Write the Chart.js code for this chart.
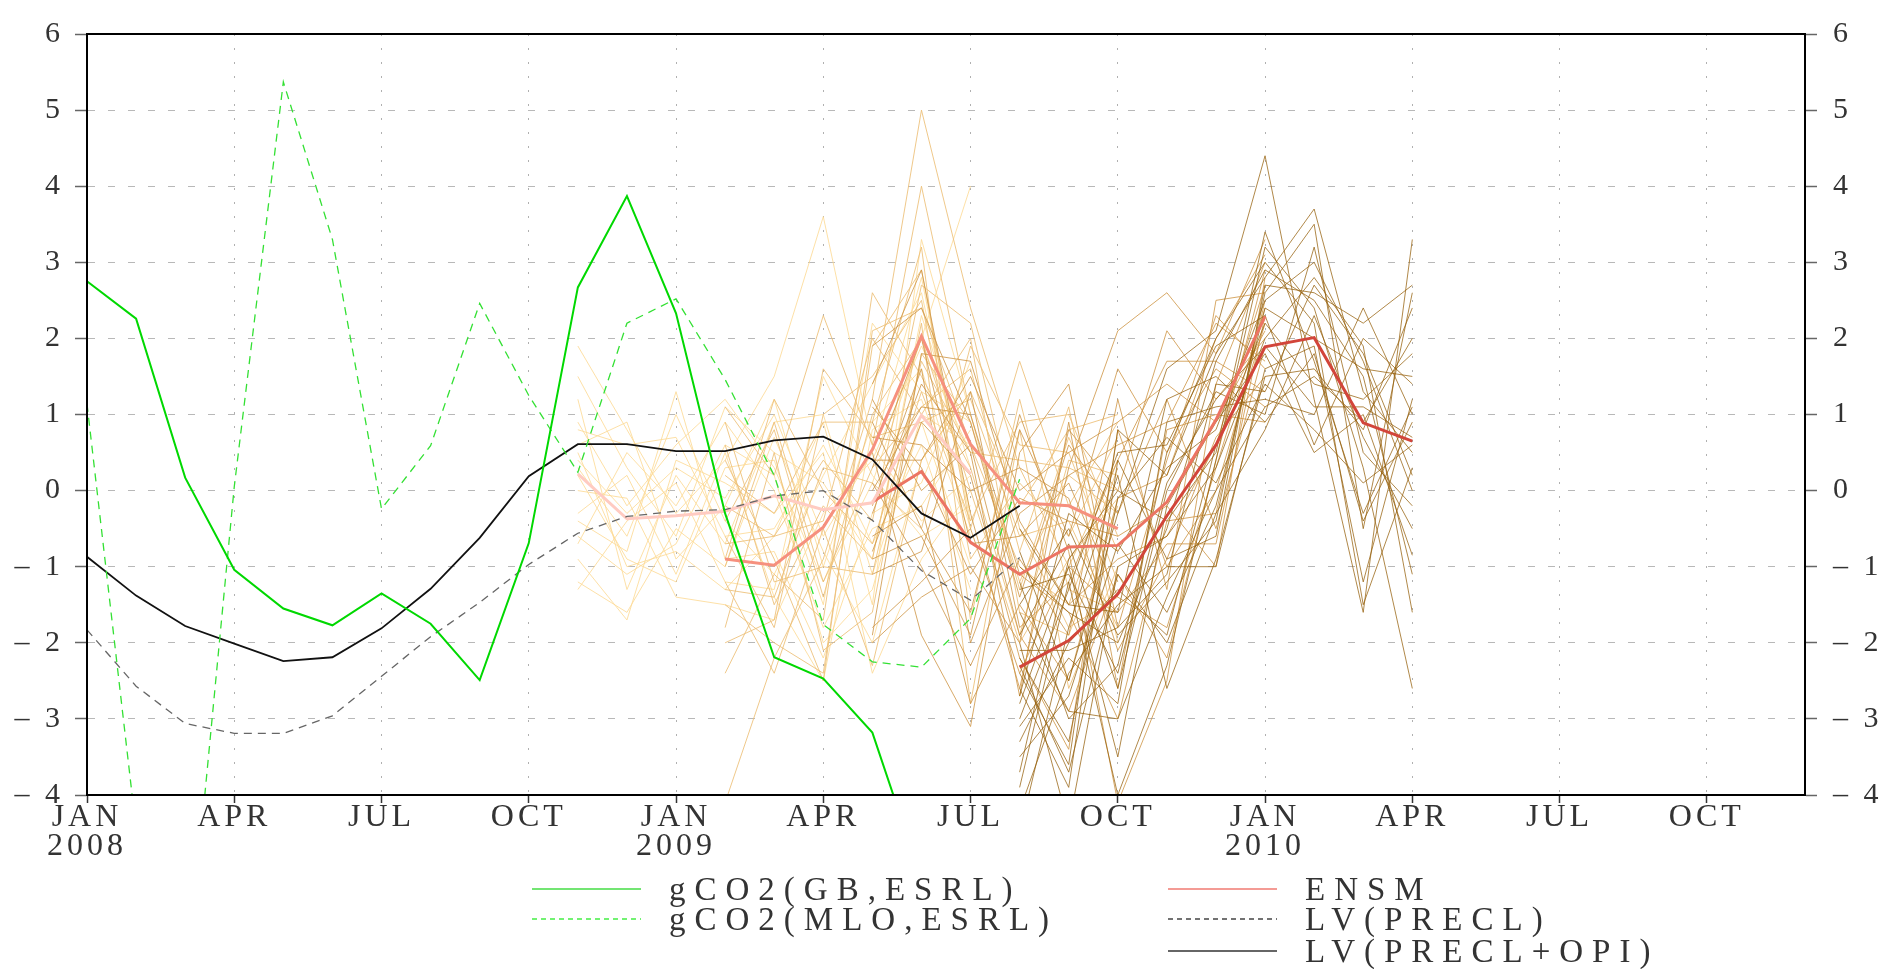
<!DOCTYPE html>
<html>
<head>
<meta charset="utf-8">
<script src="https://cdn.jsdelivr.net/npm/chart.js@4.4.1/dist/chart.umd.min.js"></script>
<style>
  html, body { margin: 0; padding: 0; background: #fff; }
  #wrap { position: relative; width: 1897px; height: 969px; }
  #legend {
    position: absolute; left: 0; top: 0; width: 100%; height: 100%; pointer-events: none;
    font-family: 'Liberation Serif', 'DejaVu Serif', serif; font-size: 33px;
    letter-spacing: 9px; color: #333;
  }
  .item { position: absolute; display: flex; align-items: center; height: 30px; white-space: nowrap; }
  .item svg { margin-right: 28px; flex: none; }
</style>
</head>
<body>
<div id="wrap">
  <canvas id="chart" width="1897" height="969"></canvas>
  <div id="legend"></div>
</div>
<script>
// Month index 0 = JAN 2008, axis runs to DEC 2010
const xTickValues = [0, 3, 6, 9, 12, 15, 18, 21, 24, 27, 30, 33];
const monthNames = ['JAN', 'APR', 'JUL', 'OCT'];
const yearNames = ['2008', '2009', '2010'];

// Observations, starting JAN 2008
const gco2GB = [2.75, 2.26, 0.17, -1.04, -1.55, -1.77, -1.35, -1.75, -2.49, -0.69, 2.67, 3.87,
  2.33, -0.30, -2.19, -2.47, -3.18, -5.1];
const gco2MLO = [1.14, -4.45, -6.7, 0.05, 5.37, 3.3, -0.24, 0.59, 2.46, 1.25, 0.24, 2.2,
  2.52, 1.46, 0.2, -1.76, -2.25, -2.32, -1.68, 0.15];
const lvPrecl = [-1.83, -2.57, -3.06, -3.19, -3.19, -2.96, -2.44, -1.92, -1.47, -0.97, -0.56, -0.34,
  -0.27, -0.25, -0.07, 0.0, -0.39, -1.05, -1.44, -0.88];
const lvPreclOpi = [-0.87, -1.38, -1.78, -2.01, -2.24, -2.19, -1.81, -1.29, -0.62, 0.19, 0.61, 0.61,
  0.52, 0.52, 0.66, 0.71, 0.41, -0.30, -0.62, -0.20];

// Forecast start months: NOV 2008, FEB 2009, MAY 2009, AUG 2009 (9 months each)
const initMonths = [10, 13, 16, 19];

const ensm1 = [0.22, -0.37, -0.33, -0.27, -0.07, -0.25, -0.16, 0.99, 0.22];
const ensm2 = [-0.90, -0.98, -0.48, 0.54, 2.03, 0.61, -0.16, -0.20, -0.50];
const ensm3 = [-0.15, 0.25, -0.68, -1.10, -0.74, -0.72, -0.15, 0.93, 2.29];
const ensm4 = [-2.32, -1.97, -1.36, -0.33, 0.60, 1.89, 2.01, 0.89, 0.65];

const members1 = [
  [1.9, 0.8, -0.3, 0.4, 1.5, 3.6, 0.6, -0.4, 0.2],
  [0.9, -0.2, 0.6, 1.2, 0.3, -1.2, 0.1, 2.0, 4.0],
  [0.5, -1.0, -0.8, -1.3, -0.6, 0.9, -1.5, 3.3, 1.0],
  [-0.3, 0.2, -1.1, 0.5, -1.4, -2.5, 0.8, 1.2, -0.6],
  [-1.2, -1.6, -0.5, -1.0, 0.7, -0.8, -2.0, 0.4, 1.3],
  [0.3, -0.6, 1.0, -0.4, -1.1, 0.2, 1.4, 2.6, -0.3],
  [-0.7, 0.5, -0.2, 0.9, 0.0, -1.8, -0.5, -0.2, 0.8],
  [1.2, -1.3, 0.2, -0.7, 0.9, 1.0, -1.1, 0.9, -1.0],
  [0.0, -0.1, -1.4, -1.5, -1.7, -0.3, 0.4, 1.9, 0.5],
  [-0.9, -1.7, 0.4, 0.1, -0.3, 0.5, -2.4, -0.9, 0.0],
  [0.6, 0.9, -0.9, -0.2, 1.2, -1.0, 0.9, 1.6, -0.5],
  [-0.4, -0.8, 1.3, -0.9, -0.8, -2.2, -0.3, 0.1, 1.7],
  [1.5, 0.3, -0.6, 1.1, 0.5, 0.1, -0.9, 2.3, 0.3],
  [-1.3, -0.4, 0.1, -1.2, -1.3, 1.5, 0.2, -0.6, -0.2],
  [0.2, -0.9, -1.2, 0.3, 0.4, -1.5, 2.2, 1.3, 0.9],
  [0.8, 0.6, 0.7, -0.6, -0.5, 0.6, -0.7, 0.6, -1.3],
  [-0.6, -1.1, -0.7, 0.6, 0.2, -2.0, -1.3, 1.0, 0.6],
  [0.4, -0.3, 0.3, -0.1, 1.0, -0.6, 0.5, 2.8, -0.4],
];
const members2 = [
  [-4.1, -2.2, -0.9, 1.2, 5.0, 2.4, 0.3, -1.0, 0.4],
  [1.1, 0.2, 2.3, 0.6, 4.0, 1.0, -1.3, 0.7, -0.8],
  [-1.5, -2.0, -2.4, 1.9, 2.9, -0.5, 1.7, -0.2, 0.9],
  [-0.2, -0.6, 0.4, -0.4, 2.7, 2.2, -0.5, -1.8, -1.4],
  [-2.4, -1.1, -1.7, 2.6, 1.5, 0.3, -1.9, 0.4, 0.2],
  [0.6, -1.5, -0.2, -0.9, 2.2, -2.8, 0.8, -2.6, -1.0],
  [-1.0, 0.9, -1.2, 0.3, 1.1, 1.6, -0.8, 1.1, -2.0],
  [-0.6, -1.8, 1.0, 1.5, 2.5, -0.9, 0.1, -0.6, 0.7],
  [-1.8, 0.5, -2.1, -1.6, 1.8, 0.9, -1.2, 0.2, -0.3],
  [0.2, -0.3, 0.9, 0.9, 3.2, -1.7, 1.2, -1.3, -1.6],
  [-1.2, -2.4, -0.5, -2.3, 0.4, 1.3, -0.2, 0.8, 1.0],
  [-0.4, 0.8, -1.4, 1.0, 2.0, 0.0, -2.0, -0.9, -0.1],
  [-1.3, -1.4, 0.3, 0.1, -0.5, 1.9, 0.6, 0.5, -1.2],
  [0.4, -0.9, -2.5, 2.1, 2.4, 0.6, -1.0, -1.5, 0.3],
  [-0.9, 1.2, 0.0, -0.7, 1.3, -0.4, 0.9, 1.0, -0.6],
  [-2.0, -1.7, 1.6, 0.7, 0.9, 1.2, -0.6, -0.4, -1.8],
  [0.9, -1.2, -1.0, -1.1, 1.7, 0.5, 0.4, 0.3, 0.0],
  [-0.7, -0.6, -0.4, 2.0, 1.0, 2.0, -1.6, -1.9, -0.2],
];
const members3 = [
  [1.4, 2.9, -0.3, -2.6, 0.3, 2.1, 2.6, 1.8, 3.3],
  [-1.9, 1.8, 1.7, -0.4, -1.5, -0.9, -0.6, 0.6, 2.7],
  [0.5, -1.9, -3.1, 0.5, 1.4, -1.8, 0.4, 2.3, 1.6],
  [-0.8, 0.9, 0.2, -2.2, -3.4, 0.8, -1.0, 0.0, 2.2],
  [0.9, -0.5, -1.6, 1.0, -0.8, -4.1, -2.5, 1.4, 3.0],
  [1.9, 2.4, 0.9, -1.4, 0.6, -0.3, 1.2, -0.5, 1.9],
  [0.1, -1.0, -2.3, -0.9, -1.9, 1.2, -1.3, 2.5, 2.6],
  [-0.3, 1.4, 0.5, -2.7, 0.9, -2.6, 0.8, 1.0, 0.9],
  [1.1, 0.3, -1.1, -0.1, -0.4, -0.6, -0.2, -1.0, 2.8],
  [-1.1, -0.8, 1.3, -1.8, -1.2, 0.4, 1.7, 1.7, 1.3],
  [0.3, 2.0, -0.7, -0.6, 0.1, -1.4, -1.8, 0.3, 2.4],
  [-0.6, -0.2, -2.8, -1.5, -2.5, -0.1, 0.2, 2.0, 3.1],
  [0.7, 0.6, 0.0, 0.3, -0.1, -2.1, -0.9, 0.7, 1.5],
  [-2.0, -1.4, -1.0, -2.0, 0.8, 0.0, 2.1, 1.2, 2.0],
  [0.0, 1.1, 1.0, -1.1, -1.6, -3.0, -0.4, -0.3, 2.5],
  [-0.9, -0.6, -1.9, 0.8, -0.6, 1.6, 0.5, 1.6, 1.1],
  [1.2, 0.0, 0.6, -1.9, -2.9, -1.1, -2.2, 0.4, 2.9],
  [-0.2, 1.6, -2.0, -0.3, 0.2, 0.6, 0.9, 2.2, 1.7],
  [-1.8, -1.2, -0.5, -2.4, -1.0, -1.6, -0.7, -0.7, 2.3],
  [0.4, 0.4, 1.5, 0.0, 0.5, 0.9, 1.4, 0.9, 2.1],
];
const members4 = [
  [-0.8, -2.5, -0.3, 1.6, 2.1, 4.4, 1.2, -1.6, 3.3],
  [-3.9, -1.2, -4.0, -2.3, 0.4, 3.2, 2.4, 0.3, -2.6],
  [-2.4, -3.6, 0.8, 0.2, 1.8, 2.8, 3.7, 1.3, 0.5],
  [-1.5, -0.5, -1.9, -1.2, -0.4, 2.6, 3.5, -0.5, 2.6],
  [-3.1, -2.2, -2.8, 0.9, 1.1, 1.2, 1.0, 2.4, 1.0],
  [-2.0, -4.4, -1.0, -0.6, 0.3, 2.0, 2.8, 1.9, -1.6],
  [-4.5, -1.8, 0.2, -2.6, -0.9, 1.5, 1.6, 0.8, 2.4],
  [-1.2, -3.0, -2.3, 0.5, 2.0, 3.0, 2.2, -1.5, 0.3],
  [-2.8, -1.0, -3.5, -0.2, 0.9, 1.8, 0.5, 1.0, -0.85],
  [-3.5, -2.7, -0.7, -1.6, -0.2, 2.4, 2.0, 1.6, 1.5],
  [-0.5, -1.5, -1.6, 1.2, 1.5, 0.9, 1.8, -0.4, 0.9],
  [-2.6, -3.9, 0.4, -0.9, -0.6, 2.7, 2.6, 2.2, 2.7],
  [-1.9, -0.7, -2.6, 0.0, 1.3, 1.0, 3.2, 0.5, -0.2],
  [-3.3, -2.0, -1.3, -1.9, 0.6, 2.2, 1.4, 1.2, 1.8],
  [-2.2, -3.3, -0.1, 0.7, 0.1, 1.4, 0.8, 0.1, 0.6],
  [-1.0, -1.6, -2.0, -0.5, 1.7, 2.9, 2.5, 1.5, -1.1],
  [-4.2, -2.4, -1.5, -1.0, -1.0, 1.6, 1.9, -1.2, 1.2],
  [-2.7, -0.3, -0.8, 0.3, 0.8, 2.5, 3.0, 1.7, 0.0],
  [-1.6, -2.9, -3.0, -1.4, 0.0, 1.1, 1.5, 0.9, 2.0],
  [-3.0, -1.3, 0.5, 0.6, 1.9, 2.3, 0.6, 2.0, 1.4],
  [-2.3, -3.7, -1.1, -2.0, -0.3, 0.8, 2.3, 0.7, -0.5],
  [-1.3, -1.1, -2.4, 0.1, 1.2, 1.9, 1.1, 1.1, 0.7],
  [-3.7, -0.9, 0.0, -0.4, 0.5, 3.4, 1.7, -0.3, 1.1],
  [-2.1, -2.1, -1.8, -1.1, 1.4, 1.3, 2.7, 1.8, 0.2],
];

const legendLabels = ['gCO2(GB,ESRL)', 'gCO2(MLO,ESRL)', 'ENSM', 'LV(PRECL)', 'LV(PRECL+OPI)'];

// helpers
const toPoints = (start, values) => values.map((v, i) => ({ x: start + i, y: v }));
const line = (label, start, values, style) => Object.assign({
  label,
  data: toPoints(start, values),
  pointRadius: 0,
  pointHoverRadius: 0,
  tension: 0,
  fill: false,
}, style);

const memberColors = [
  'rgba(253, 218, 150, 0.85)',
  'rgba(236, 190, 118, 0.85)',
  'rgba(205, 148, 66, 0.8)',
  'rgba(150, 96, 12, 0.75)',
];
const ensmColors = ['#ffcbc2', '#f6907e', '#ec7463', '#d2453a'];

const datasets = [
  line('gCO2(GB,ESRL)', 0, gco2GB, { borderColor: '#00d800', borderWidth: 2, order: 0 }),
  line('gCO2(MLO,ESRL)', 0, gco2MLO, { borderColor: '#33e033', borderWidth: 1.3, borderDash: [8, 6], order: 0 }),
  line('LV(PRECL)', 0, lvPrecl, { borderColor: '#666', borderWidth: 1.3, borderDash: [8, 6], order: 0 }),
  line('LV(PRECL+OPI)', 0, lvPreclOpi, { borderColor: '#111', borderWidth: 1.8, order: 0 }),
];
[ensm1, ensm2, ensm3, ensm4].forEach((vals, g) => {
  datasets.push(line('ENSM', initMonths[g], vals, { borderColor: ensmColors[g], borderWidth: 3, order: 1 }));
});
[members1, members2, members3, members4].forEach((group, g) => {
  group.forEach((vals) => {
    datasets.push(line('member', initMonths[g], vals, {
      borderColor: memberColors[g], borderWidth: 1, order: 5 - g,
    }));
  });
});

const yLabel = (v) => (v < 0 ? '\u2013 ' + Math.abs(v) : String(v));
const fontFamily = "'Liberation Serif', 'DejaVu Serif', serif";

// wide glyph spacing like the original plot, and the box round the plot area
const plotStyle = {
  id: 'plotStyle',
  beforeDraw(chart) { chart.ctx.letterSpacing = '4px'; },
  afterDatasetsDraw(chart) {
    const { ctx, chartArea: a } = chart;
    ctx.save();
    ctx.strokeStyle = '#000';
    ctx.lineWidth = 2;
    ctx.strokeRect(a.left, a.top, a.right - a.left, a.bottom - a.top);
    ctx.restore();
  },
  afterDraw(chart) { chart.ctx.letterSpacing = '0px'; },
};

const chart = new Chart(document.getElementById('chart'), {
  type: 'line',
  data: { datasets },
  plugins: [plotStyle],
  options: {
    responsive: false,
    animation: false,
    layout: { padding: { top: 19, bottom: 104, left: 0, right: 0 } },
    scales: {
      x: {
        type: 'linear',
        min: 0,
        max: 35,
        afterBuildTicks: (scale) => { scale.ticks = xTickValues.map((v) => ({ value: v })); },
        afterFit: (scale) => { scale.height = 70; },
        ticks: {
          autoSkip: false,
          maxRotation: 0,
          padding: 1,
          color: '#333',
          font: { family: fontFamily, size: 32, lineHeight: 0.88 },
          callback: (v) => (v % 12 === 0 ? [monthNames[0], yearNames[v / 12]] : monthNames[(v % 12) / 3]),
        },
        grid: { color: '#b0b0b0', lineWidth: 1, tickColor: '#333', tickLength: 8, tickWidth: 1.5 },
        border: { color: '#000', width: 2, dash: [2, 12] },
      },
      y: {
        position: 'left',
        min: -4,
        max: 6,
        afterFit: (scale) => { scale.width = 87; },
        ticks: { stepSize: 1, padding: 11, color: '#333', font: { family: fontFamily, size: 30 }, callback: yLabel },
        grid: { color: '#b8b8b8', lineWidth: 1, tickColor: '#666', tickLength: 12, tickWidth: 1.5 },
        border: { color: '#000', width: 2, dash: [7, 13] },
      },
      y2: {
        position: 'right',
        min: -4,
        max: 6,
        afterFit: (scale) => { scale.width = 92; },
        ticks: { stepSize: 1, padding: 16, color: '#333', font: { family: fontFamily, size: 30 }, callback: yLabel },
        grid: { drawOnChartArea: false, tickColor: '#666', tickLength: 12, tickWidth: 1.5 },
        border: { color: '#000', width: 2 },
      },
    },
    plugins: {
      legend: { display: false },
      tooltip: { enabled: false },
    },
  },
});

// legend under the plot, two columns like the original
const legendLayout = [
  { x: 532, y: 874, color: '#44dd44', dash: '' },
  { x: 532, y: 904, color: '#44ee44', dash: '5 4' },
  { x: 1168, y: 874, color: '#f07a72', dash: '' },
  { x: 1168, y: 904, color: '#444', dash: '5 4' },
  { x: 1168, y: 936, color: '#333', dash: '' },
];
const legendEl = document.getElementById('legend');
legendLabels.forEach((text, i) => {
  const s = legendLayout[i];
  const div = document.createElement('div');
  div.className = 'item';
  div.style.left = s.x + 'px';
  div.style.top = s.y + 'px';
  div.innerHTML = '<svg width="109" height="4"><line x1="0" y1="2" x2="109" y2="2" stroke="' + s.color +
    '" stroke-width="1.5"' + (s.dash ? ' stroke-dasharray="' + s.dash + '"' : '') + '/></svg>';
  const span = document.createElement('span');
  span.textContent = text;
  div.appendChild(span);
  legendEl.appendChild(div);
});
</script>
</body>
</html>
